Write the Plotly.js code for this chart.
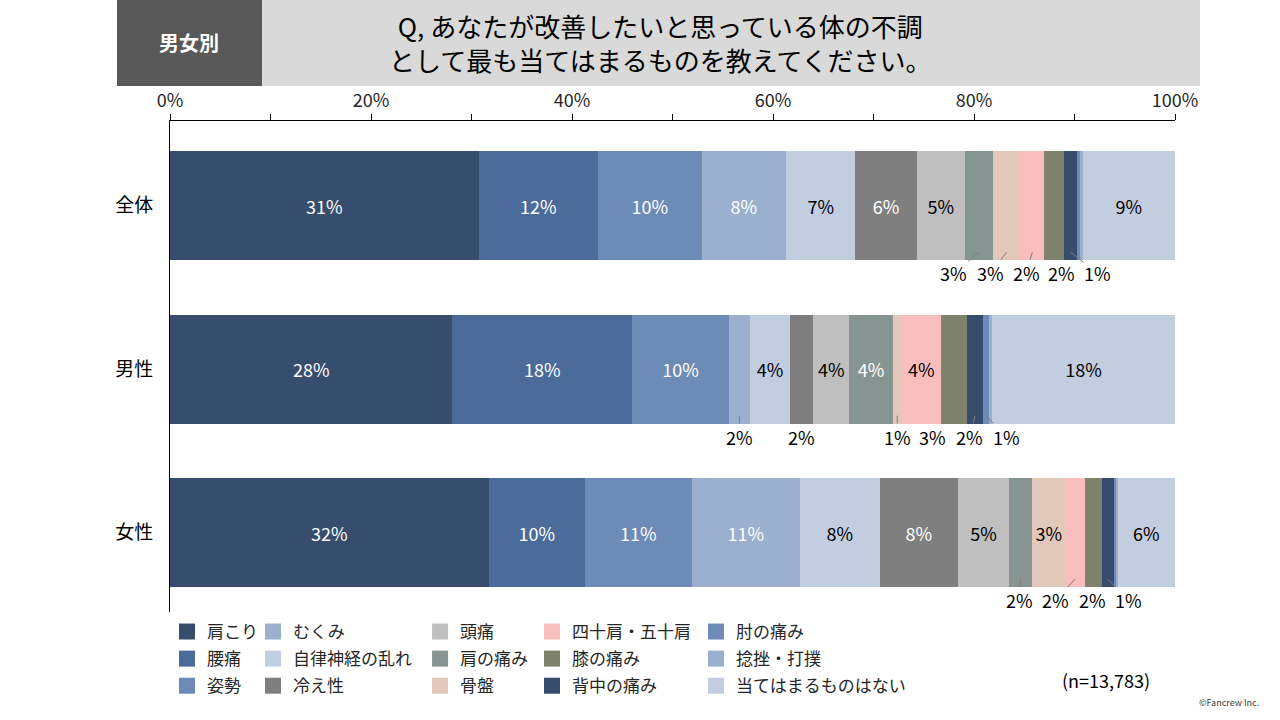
<!DOCTYPE html>
<html>
<head>
<meta charset="utf-8">
<script src="https://cdn.plot.ly/plotly-3.0.1.min.js"></script>
<style>html,body{margin:0;padding:0;background:#fff;}#chart{width:1280px;height:720px;}</style>
</head>
<body>
<div id="chart"></div>
<script>
// ---------- data ----------
const categories = ['全体', '男性', '女性'];
const seriesNames = ['肩こり', '腰痛', '姿勢', 'むくみ', '自律神経の乱れ', '冷え性', '頭痛', '肩の痛み', '骨盤',
  '四十肩・五十肩', '膝の痛み', '背中の痛み', '肘の痛み', '捻挫・打撲', '当てはまるものはない'];
const totalValues  = [30.7, 11.9, 10.3, 8.4, 6.9, 6.1, 4.8, 2.8, 2.7, 2.4, 2.0, 1.2, 0.3, 0.3, 9.2];
const maleValues   = [28.1, 17.9, 9.6, 2.1, 4.0, 2.3, 3.6, 4.3, 0.9, 3.9, 2.6, 1.6, 0.6, 0.3, 18.2];
const femaleValues = [31.7, 9.6, 10.6, 10.8, 7.9, 7.8, 5.1, 2.3, 3.3, 1.9, 1.7, 1.2, 0.2, 0.2, 5.7];
const xTickValues = [0, 20, 40, 60, 80, 100];
const xTickLabels = ['0%', '20%', '40%', '60%', '80%', '100%'];
const sampleNote = '(n=13,783)';

// ---------- styles ----------
const FONT = '"Noto Sans CJK JP", "Noto Sans", sans-serif';
const seriesColors = ['#374D6E', '#4B6B9A', '#6C8BB7', '#9BAFCE', '#C3CDE0', '#7F7F7F', '#BFBFBF', '#879592',
  '#E2C8B9', '#F9BDBD', '#7F836B', '#374D6E', '#6C8BB7', '#9BAFCE', '#C3CDE0'];
const whiteText = [true, true, true, true, false, true, false, true, false, false, true, true, true, true, false];
// leader-label placement (layout only): [series index, label x in axis %]
const leaderLabelX = [
  [[7, 78.0], [8, 81.6], [9, 85.2], [10, 88.7], [11, 92.3]],
  [[3, 56.7], [5, 62.8], [8, 72.4], [10, 75.9], [11, 79.6], [12, 83.2]],
  [[7, 84.5], [9, 88.1], [10, 91.8], [11, 95.4]]
];
const legendKeys = ['legend', 'legend2', 'legend3', 'legend4', 'legend5'];
const legendX = [-0.003, 0.0826, 0.2488, 0.3602, 0.5234];

const rowValues = [totalValues, maleValues, femaleValues];
const traces = [];
seriesNames.forEach((name, i) => {
  const xs = rowValues.map(r => r[i]);
  traces.push({
    type: 'bar', orientation: 'h', name: name,
    y: categories, x: xs,
    marker: {color: seriesColors[i], line: {width: 0}},
    text: xs.map(v => v >= 3 ? Math.round(v) + '%' : ''),
    textposition: 'inside', insidetextanchor: 'middle', textangle: 0, constraintext: 'none',
    insidetextfont: {family: FONT, size: 18, color: whiteText[i] ? '#FFFFFF' : '#000000'},
    showlegend: false, hoverinfo: 'name+x'
  });
});
// legend entries (column-major, 3 rows x 5 columns)
seriesNames.forEach((name, i) => {
  traces.push({
    type: 'scatter', mode: 'markers', name: name, x: [null], y: [null],
    marker: {symbol: 'square', size: 16, color: seriesColors[i]},
    legend: legendKeys[Math.floor(i / 3)], legendgroup: 'g' + i, showlegend: true, hoverinfo: 'skip'
  });
});

// leader-line annotations for narrow segments
const annotations = [];
rowValues.forEach((row, ci) => {
  leaderLabelX[ci].forEach(([si, lx]) => {
    let start = 0;
    for (let k = 0; k < si; k++) start += row[k];
    const center = start + row[si] / 2;
    annotations.push({
      xref: 'x', yref: 'y', axref: 'x', ayref: 'y',
      x: center, y: ci + 0.285, ax: lx, ay: ci + 0.415,
      text: Math.round(row[si]) + '%', showarrow: true, arrowhead: 0, arrowwidth: 1,
      arrowcolor: '#7F7F7F', standoff: 0, borderpad: 0,
      font: {family: FONT, size: 18, color: '#000000'}
    });
  });
});
// header & notes
annotations.push({xref: 'paper', yref: 'paper', x: 0.0194, y: 1.1589, xanchor: 'center', yanchor: 'middle',
  showarrow: false, text: '<b>男女別</b>', font: {family: FONT, size: 20, color: '#FFFFFF'}});
annotations.push({xref: 'paper', yref: 'paper', x: 0.4876, y: 1.1589, xanchor: 'center', yanchor: 'middle',
  showarrow: false, text: 'Q, あなたが改善したいと思っている体の不調<br>として最も当てはまるものを教えてください。',
  font: {family: FONT, size: 26, color: '#000000'}});
annotations.push({xref: 'paper', yref: 'paper', x: 0.9313, y: -0.1385, xanchor: 'center', yanchor: 'middle',
  showarrow: false, text: sampleNote, font: {family: FONT, size: 18, color: '#000000'}});
annotations.push({xref: 'paper', yref: 'paper', x: 1.0537, y: -0.1833, xanchor: 'center', yanchor: 'middle',
  showarrow: false, text: '©Fancrew Inc.', font: {family: FONT, size: 9, color: '#404040'}});

const layout = {
  width: 1280, height: 720,
  margin: {l: 170, r: 105, t: 121, b: 108, autoexpand: false},
  paper_bgcolor: '#FFFFFF', plot_bgcolor: '#FFFFFF',
  barmode: 'stack', bargap: 0.333,
  font: {family: FONT, color: '#000000'},
  xaxis: {
    side: 'top', range: [0, 100], tickmode: 'array', tickvals: xTickValues, ticktext: xTickLabels,
    ticks: 'outside', ticklen: 6, tickcolor: '#000000', tickwidth: 1,
    minor: {dtick: 10, ticks: 'outside', ticklen: 6, tickcolor: '#000000', tickwidth: 1, showgrid: false},
    showline: true, linecolor: '#000000', linewidth: 1, showgrid: false, zeroline: false,
    tickfont: {family: FONT, size: 18, color: '#262626'}, fixedrange: true
  },
  yaxis: {
    type: 'category', range: [2.486, -0.517], showline: true, linecolor: '#000000', linewidth: 1,
    ticks: '', showgrid: false, zeroline: false, ticklabelstandoff: 12,
    tickfont: {family: FONT, size: 19, color: '#000000'}, fixedrange: true
  },
  shapes: [
    {type: 'rect', xref: 'paper', yref: 'paper', x0: -0.05274, x1: 0.09154, y0: 1.07128, y1: 1.25,
      fillcolor: '#595959', line: {width: 0}, layer: 'below'},
    {type: 'rect', xref: 'paper', yref: 'paper', x0: 0.09154, x1: 1.02488, y0: 1.07128, y1: 1.25,
      fillcolor: '#D9D9D9', line: {width: 0}, layer: 'below'}
  ],
  annotations: annotations
};
legendKeys.forEach((k, i) => {
  layout[k] = {
    x: legendX[i], y: -0.004, xanchor: 'left', yanchor: 'top', orientation: 'v',
    bgcolor: 'rgba(0,0,0,0)', borderwidth: 0, tracegroupgap: 2, traceorder: 'grouped',
    font: {family: FONT, size: 17, color: '#262626'}, itemclick: false, itemdoubleclick: false
  };
});

Plotly.newPlot('chart', traces, layout, {displayModeBar: false, staticPlot: true});
</script>
</body>
</html>
